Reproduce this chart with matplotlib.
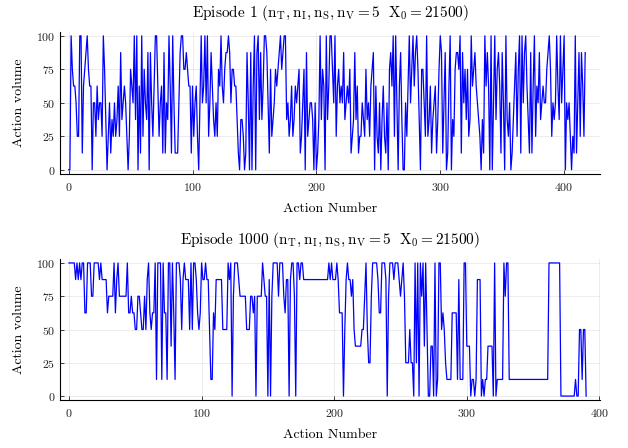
import numpy as np
import matplotlib
matplotlib.use("Agg")
import matplotlib.pyplot as plt

# action volume levels (0..8), one level = 12.5 volume units
level_step = 12.5

ep1_levels = [
    0, 0, 8, 6, 5, 5, 4, 2, 2, 8, 8, 1, 5, 6, 7, 8, 6, 5, 5, 0,
    4, 4, 2, 5, 3, 4, 4, 2, 8, 6, 3, 0, 2, 4, 1, 3, 2, 4, 2, 3,
    5, 2, 7, 3, 4, 5, 4, 2, 0, 2, 6, 5, 4, 8, 3, 8, 0, 5, 1, 8,
    2, 6, 4, 3, 7, 0, 7, 4, 2, 5, 8, 8, 5, 2, 4, 5, 1, 7, 1, 4,
    3, 8, 5, 1, 8, 4, 1, 1, 1, 4, 7, 8, 8, 6, 6, 7, 6, 5, 5, 1,
    5, 2, 4, 5, 2, 0,
    4, 8, 4, 5, 8, 4, 8, 2, 4, 7, 5, 3, 2, 4, 2, 6, 5, 8, 5, 4,
    6, 7, 7, 8, 7, 4, 6, 6, 5, 5, 3, 1, 0, 3, 3, 2, 0, 1, 7, 4,
    0, 7, 0, 5, 8, 0, 7, 8, 3, 7, 3, 5, 8, 8, 7, 4, 1, 6, 2, 3,
    4, 6, 5, 6, 7, 8, 6, 7, 8, 8, 3, 4, 2, 3, 5, 2, 3, 5, 4, 5,
    6, 1, 2, 4, 6, 0, 7, 2, 3, 4, 4, 3, 0, 4, 0, 1, 3, 8, 3, 6,
    5, 0, 8, 3, 5, 8, 8, 6, 4, 8, 2, 5, 6, 4, 5, 4, 7, 3, 4, 5,
    4, 6, 1, 2, 3, 7, 3, 5, 1, 2, 2, 4, 3, 2, 6, 3, 4, 2, 5, 6,
    7, 0, 5, 2, 1, 4, 0, 3, 5, 2, 1, 4, 0, 6, 7, 5, 8, 2, 8, 4,
    0, 5, 7, 3, 0, 0, 4, 2, 5, 8, 4, 6, 8, 5, 7, 8, 6, 3,
    0, 6, 6, 4, 2, 8, 2, 3, 5, 1, 3, 4, 5, 1, 3, 6, 8, 7, 1, 4,
    7, 0, 1, 5, 8, 0, 3, 2, 6, 7, 7, 6, 8, 1, 7, 4, 6, 3, 6, 2,
    3, 8, 5, 6, 7, 5, 4, 3, 2, 0, 3, 1, 8, 5, 7, 5, 0, 8, 0, 4,
    8, 3, 6, 7, 5, 1, 7, 4, 0, 8, 3, 2, 4, 0, 1, 3, 5, 7, 2, 6,
    8, 1, 8, 4, 7, 8, 5, 3, 1, 7, 1, 5, 8, 2, 5, 4, 7, 3, 4, 5,
    4, 4, 6, 7, 8, 6, 2, 4, 3, 4, 8, 5, 3, 8, 4, 6, 8, 0, 4, 3,
    4, 2, 0, 2, 1, 8, 1, 4, 7, 2, 7, 5, 2, 7,
]

ep1000_levels = [
    8, 8, 8, 8, 8, 7, 8, 7, 8, 7, 8, 8, 5, 5, 8, 8, 8, 6, 6, 8,
    8, 8, 8, 7, 8, 7, 7, 7, 7, 5, 6, 6, 6, 6, 8, 5, 7, 8, 6, 6,
    6, 6, 6, 6, 8, 5, 5, 6, 5, 5, 4, 4, 6, 6, 5, 4, 4, 6, 4, 7,
    8, 5, 4, 5, 5, 8, 1, 8, 8, 8, 1, 8, 5, 5, 1, 8, 8, 3, 8, 5,
    1, 8, 8, 8, 7, 4, 7, 8, 7, 7, 7, 4, 8, 4, 8, 8, 7, 5, 4, 5,
    8, 7, 7, 8, 7, 7, 4, 1, 1, 5, 4, 7, 7, 7, 7, 7, 4, 4, 4, 4,
    8, 7, 8, 0, 6, 8, 8, 8, 7, 6, 6, 6, 6, 6, 4, 4, 4, 6, 6, 5,
    6, 0, 6, 6, 6, 6, 8, 7, 6, 6, 0, 7, 0, 6, 8, 8, 8, 8, 6, 8,
    8, 8, 6, 5, 7, 7, 0, 7, 8, 8, 6, 0, 8, 8, 7, 8, 8, 7, 7, 7,
    7, 7, 7, 7, 7, 7, 7, 7, 7, 7, 7, 7, 7, 7, 7, 7, 8, 7, 8, 7,
    7, 7, 8, 7, 5, 5, 5, 0, 4, 7, 8, 7, 7, 6, 7, 4, 3, 3, 3, 3,
    3, 4, 4, 6, 8, 4, 2, 2, 6, 8, 8, 8, 8, 7, 5, 5, 8, 8, 8, 7,
    0, 6, 8, 8, 8, 7, 8, 8, 8, 7, 6, 7, 8, 6, 2, 2, 2, 4, 2, 2,
    0, 8, 2, 8, 0, 8, 6, 8, 3, 8, 4, 0, 0, 3, 3, 0, 8, 0, 1, 8,
    8, 4, 5, 4, 2, 1, 1, 1, 1, 5, 5, 5, 5, 1, 7, 1, 1, 1, 8, 8,
    3, 3, 3, 0, 1, 1, 0, 1, 7, 7, 7, 0, 1, 0, 1, 1, 3, 3, 3, 3,
    0, 8, 0, 1, 1, 1, 1, 1, 8, 6, 8, 8, 1, 1, 1, 1, 1, 1, 1, 1,
    1, 1, 1, 1, 1, 1, 1, 1, 1, 1, 1, 1, 1, 1, 1, 1, 1, 1, 1, 1,
    1, 1, 8, 8, 8, 8, 8, 8, 8, 8, 8, 0, 0, 0, 0, 0, 0, 0, 0, 0,
    0, 0, 1, 0, 0, 4, 4, 1, 4, 4, 0,
]

titles = [
    r"Episode 1 ($\mathrm{n_T, n_I, n_S, n_V = 5\ \ X_0 = 21500}$)",
    r"Episode 1000 ($\mathrm{n_T, n_I, n_S, n_V = 5\ \ X_0 = 21500}$)",
]
xticks = [[0, 100, 200, 300, 400], [0, 100, 200, 300, 400]]
yticks = [0, 25, 50, 75, 100]

plt.rcParams["font.family"] = "serif"
plt.rcParams["font.serif"] = ["cmr10"]
plt.rcParams["mathtext.fontset"] = "cm"
plt.rcParams["axes.unicode_minus"] = False
plt.rcParams["axes.formatter.use_mathtext"] = True

fig = plt.figure(figsize=(6.28, 4.48), dpi=100)
ax1 = fig.add_axes([0.0955, 0.612, 0.86, 0.317])
ax2 = fig.add_axes([0.0955, 0.107, 0.86, 0.315])

series = [np.array(ep1_levels) * level_step, np.array(ep1000_levels) * level_step]
xlims = [(-7, 429), (-6.8, 400.5)]

for ax, vals, title, xt, xl in zip([ax1, ax2], series, titles, xticks, xlims):
    ax.plot(np.arange(len(vals)), vals, color="#0000ff", lw=0.9)
    ax.set_xlim(*xl)
    ax.set_ylim(-3, 103)
    ax.set_xticks(xt)
    ax.set_yticks(yticks)
    ax.grid(True, color="#000000", alpha=0.1, lw=0.5)
    for s in ["top", "right"]:
        ax.spines[s].set_visible(False)
    ax.spines["left"].set_linewidth(0.8)
    ax.spines["bottom"].set_linewidth(0.8)
    ax.tick_params(direction="in", length=3, width=0.6, labelsize=8.5, colors="#222222")
    ax.tick_params(axis="x", pad=5)
    ax.set_title(title, fontsize=11, pad=11)
    ax.set_xlabel("Action Number", fontsize=10, labelpad=7)
    ax.set_ylabel("Action volume", fontsize=10, labelpad=8)

fig.savefig("out.png", dpi=100)
